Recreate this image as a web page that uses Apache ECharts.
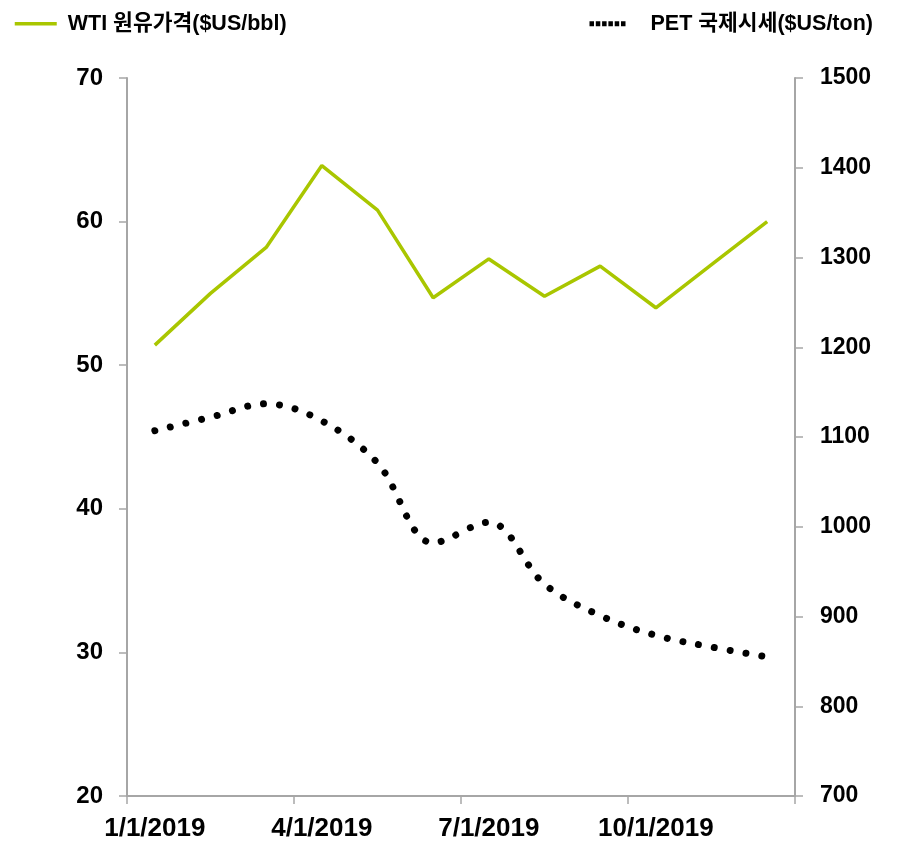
<!DOCTYPE html>
<html>
<head>
<meta charset="utf-8">
<script src="https://cdn.jsdelivr.net/npm/echarts@6/dist/echarts.min.js"></script>
<style>
html,body{margin:0;padding:0;background:#fff;}
#chart{width:897px;height:844px;}
</style>
</head>
<body>
<div id="chart"></div>
<script>
// Data
const categories = ['1/1/2019','2/1/2019','3/1/2019','4/1/2019','5/1/2019','6/1/2019','7/1/2019','8/1/2019','9/1/2019','10/1/2019','11/1/2019','12/1/2019'];
const wtiName = 'WTI 원유가격($US/bbl)';
const petName = 'PET 국제시세($US/ton)';
const wtiValues = [51.4, 55.0, 58.2, 63.9, 60.8, 54.7, 57.4, 54.8, 56.9, 54.0, 57.0, 60.0];
const petValues = [1107, 1122, 1137, 1118, 1071, 982, 1005, 936, 901, 879, 866, 855];
const leftTicks = {min: 20, max: 70, interval: 10};
const rightTicks = {min: 700, max: 1500, interval: 100};

const FONT = '"Liberation Sans", Arial, "Noto Sans CJK KR", sans-serif';
const axisGray = '#a6a6a6';

const chart = echarts.init(document.getElementById('chart'), null, {renderer: 'canvas'});
chart.setOption({
  animation: false,
  backgroundColor: '#ffffff',
  legend: [
    {
      data: [wtiName],
      left: 8, top: 8,
      itemWidth: 42, itemHeight: 14,
      itemStyle: {opacity: 0},
      lineStyle: {width: 3.5},
      textStyle: {fontFamily: FONT, fontWeight: 'bold', fontSize: 21.5, color: '#000', padding: [0,0,0,6]},
      selectedMode: false
    },
    {
      data: [petName],
      left: 582, top: 8,
      itemWidth: 36, itemHeight: 14,
      itemStyle: {opacity: 0},
      lineStyle: {type: [4.5, 1.8], width: 5, cap: 'butt'},
      textStyle: {fontFamily: FONT, fontWeight: 'bold', fontSize: 21.5, color: '#000', padding: [0,0,0,20]},
      selectedMode: false
    }
  ],
  grid: {left: 127, right: 102, top: 78, bottom: 48, containLabel: false},
  xAxis: {
    type: 'category',
    data: categories,
    boundaryGap: true,
    axisLine: {lineStyle: {color: axisGray, width: 2}},
    axisTick: {show: true, interval: 2, length: 8, lineStyle: {color: axisGray, width: 1.5}},
    axisLabel: {interval: 2, margin: 20, fontFamily: FONT, fontWeight: 'bold', fontSize: 26, color: '#000'},
    splitLine: {show: false}
  },
  yAxis: [
    {
      type: 'value', position: 'left',
      min: leftTicks.min, max: leftTicks.max, interval: leftTicks.interval,
      axisLine: {show: true, lineStyle: {color: axisGray, width: 2}},
      axisTick: {show: true, length: 8, lineStyle: {color: axisGray, width: 1.5}},
      axisLabel: {margin: 24, fontFamily: FONT, fontWeight: 'bold', fontSize: 24, color: '#000'},
      splitLine: {show: false}
    },
    {
      type: 'value', position: 'right',
      min: rightTicks.min, max: rightTicks.max, interval: rightTicks.interval,
      axisLine: {show: true, lineStyle: {color: axisGray, width: 2}},
      axisTick: {show: true, length: 8, lineStyle: {color: axisGray, width: 1.5}},
      axisLabel: {margin: 25, fontFamily: FONT, fontWeight: 'bold', fontSize: 23, color: '#000',
                  formatter: function (v) { return String(v); }},
      splitLine: {show: false}
    }
  ],
  series: [
    {
      name: wtiName, type: 'line', yAxisIndex: 0,
      data: wtiValues,
      showSymbol: false, symbol: 'none',
      color: '#a9c600',
      lineStyle: {color: '#a9c600', width: 3.5}
    },
    {
      name: petName, type: 'line', yAxisIndex: 1,
      data: petValues,
      showSymbol: false, symbol: 'none',
      smooth: 0.35,
      color: '#000000',
      lineStyle: {color: '#000000', width: 7, type: [0.01, 16], cap: 'round'}
    }
  ]
});
</script>
</body>
</html>
